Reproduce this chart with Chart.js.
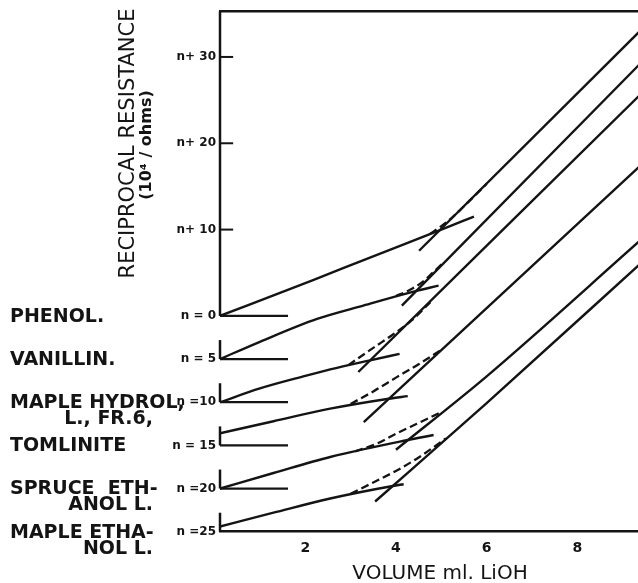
<!DOCTYPE html>
<html>
<head>
<meta charset="utf-8">
<script src="https://cdn.jsdelivr.net/npm/chart.js@4.4.1/dist/chart.umd.min.js"></script>
<style>
  html, body { margin: 0; padding: 0; background: #fff; }
  canvas { display: block; }
</style>
</head>
<body>
<canvas id="c" width="638" height="583"></canvas>
<script>
// Conductometric titration with LiOH; each sample is shifted down by n units.
const volumeTicks = [2, 4, 6, 8];
const levelTicks = [30, 20, 10, 0, -5, -10, -15, -20, -25];
const levelLabels = ['n+ 30', 'n+ 20', 'n+ 10', 'n = 0', 'n = 5', 'n =10', 'n = 15', 'n =20', 'n =25'];
const sampleNames = [
  ['PHENOL.'],
  ['VANILLIN.'],
  ['MAPLE HYDROL,', 'L., FR.6,'],
  ['TOMLINITE'],
  ['SPRUCE  ETH-', 'ANOL L.'],
  ['MAPLE ETHA-', 'NOL L.']
];
const sampleOffsets = [0, -5, -10, -15, -20, -25];

// axis extents (ml LiOH, reciprocal resistance units)
const volumeMin = 0.12, volumeMax = 9.337;
const levelMin = -25, levelMax = 35.3;
const baselineEnd = 1.62;     // short zero lines drawn for each offset sample
const offsetTickHeight = 2.2; // little vertical stub above each offset zero
const levelTickEnd = 0.41;    // inward tick marks on the main axis

// first branch (weak-acid region), extended past the end point
const phenolFirst    = [[0.12, 0], [2.2, 4.2], [3.3, 6.5], [5.0, 10.0], [5.72, 11.5]];
const vanillinFirst  = [[0.12, -5], [1.0, -3.0], [2.26, -0.35], [3.28, 1.2], [4.41, 2.85], [4.94, 3.5]];
const hydrolFirst    = [[0.12, -10], [1.0, -8.4], [2.0, -6.95], [2.55, -6.2], [3.43, -5.15], [4.08, -4.4]];
const tomliniteFirst = [[0.12, -13.6], [1.3, -12.2], [2.55, -10.75], [3.84, -9.6], [4.26, -9.3]];
const spruceFirst    = [[0.12, -20], [1.3, -18.2], [2.55, -16.35], [4.24, -14.4], [4.83, -13.8]];
const ethanolFirst   = [[0.12, -24.4], [1.3, -22.8], [2.55, -21.15], [3.93, -19.7], [4.17, -19.5]];

// second branch (excess LiOH)
const phenolSecond    = [[4.51, 7.55], [9.4, 33.1]];
const vanillinSecond  = [[4.13, 1.2], [9.4, 29.3]];
const hydrolSecond    = [[3.17, -6.5], [9.4, 25.7]];
const tomliniteSecond = [[3.29, -12.3], [9.4, 17.46]];
const spruceSecond    = [[4.0, -15.5], [6.0, -7.0], [9.4, 8.8]];
const ethanolSecond   = [[3.54, -21.5], [6.0, -10.1], [9.4, 6.1]];

// observed transition between the two branches
const phenolBend    = [[4.75, 9.5], [5.0, 10.4], [5.25, 11.45], [5.5, 12.7], [5.75, 14.0], [6.0, 15.3]];
const vanillinBend  = [[4.0, 2.3], [4.3, 3.0], [4.55, 3.8], [4.8, 4.95], [5.05, 6.2]];
const hydrolBend    = [[2.95, -5.7], [3.5, -3.7], [3.95, -2.1], [4.35, -0.5], [4.76, 1.6]];
const tomliniteBend = [[3.0, -10.2], [3.5, -8.75], [4.0, -7.15], [4.5, -5.6], [4.98, -4.0]];
const spruceBend    = [[3.1, -15.7], [3.58, -14.8], [4.02, -13.6], [4.46, -12.5], [4.98, -11.2]];
const ethanolBend   = [[3.0, -20.6], [3.5, -19.3], [4.02, -17.9], [4.5, -16.4], [5.1, -14.2]];

const firstBranches  = [phenolFirst, vanillinFirst, hydrolFirst, tomliniteFirst, spruceFirst, ethanolFirst];
const secondBranches = [phenolSecond, vanillinSecond, hydrolSecond, tomliniteSecond, spruceSecond, ethanolSecond];
const bends          = [phenolBend, vanillinBend, hydrolBend, tomliniteBend, spruceBend, ethanolBend];

const INK = '#141414';
const pts = arr => arr.map(([x, y]) => ({ x, y }));

const datasets = [];
firstBranches.forEach((d, i) => {
  datasets.push({ data: pts(d), borderColor: INK, borderWidth: 2.4, cubicInterpolationMode: 'monotone', pointRadius: 0 });
  datasets.push({ data: pts(secondBranches[i]), borderColor: INK, borderWidth: 2.4, cubicInterpolationMode: 'monotone', pointRadius: 0 });
  datasets.push({ data: pts(bends[i]), borderColor: INK, borderWidth: 2.3, borderDash: [8, 4], cubicInterpolationMode: 'monotone', pointRadius: 0 });
});

// axis pieces: main axis above the phenol zero, zero lines and stubs for the offset samples
const axisStyle = { borderColor: INK, borderWidth: 2.5, pointRadius: 0, clip: false, tension: 0 };
datasets.push({ ...axisStyle, data: pts([[volumeMin, 0], [volumeMin, levelMax]]) });
sampleOffsets.forEach((off, i) => {
  if (i < sampleOffsets.length - 1) {
    datasets.push({ ...axisStyle, borderWidth: 2.2, data: pts([[volumeMin, off], [baselineEnd, off]]) });
  }
  if (i > 0) {
    datasets.push({ ...axisStyle, data: pts([[volumeMin, off], [volumeMin, off + offsetTickHeight]]) });
  }
});
levelTicks.filter(v => v > 0).forEach(v => {
  datasets.push({ ...axisStyle, borderWidth: 2, data: pts([[volumeMin, v], [levelTickEnd, v]]) });
});

const textPlugin = {
  id: 'titrationText',
  afterDraw(chart) {
    const { ctx, scales: { y } } = chart;
    ctx.save();
    ctx.fillStyle = INK;
    ctx.textBaseline = 'middle';
    ctx.font = 'bold 19px "DejaVu Sans"';
    sampleNames.forEach((lines, i) => {
      const py = y.getPixelForValue(sampleOffsets[i]);
      ctx.textAlign = 'left';
      ctx.fillText(lines[0], 10, py + 1);
      if (lines[1]) {
        ctx.textAlign = 'right';
        ctx.fillText(lines[1], 153, py + 17);
      }
    });

    // vertical axis title
    ctx.save();
    ctx.translate(128.5, 143.5);
    ctx.rotate(-Math.PI / 2);
    ctx.textAlign = 'center';
    ctx.font = '21px "DejaVu Sans"';
    ctx.fillText('RECIPROCAL RESISTANCE', 0, 0);
    ctx.font = 'bold 16px "DejaVu Sans"';
    ctx.fillText('(10\u2074 / ohms)', -1.5, 18.5);
    ctx.restore();

    // horizontal axis title
    ctx.textAlign = 'center';
    ctx.font = '20px "DejaVu Sans"';
    ctx.fillText('VOLUME ml. LiOH', 440, 574);
    ctx.restore();
  }
};

new Chart(document.getElementById('c'), {
  type: 'line',
  data: { datasets },
  plugins: [textPlugin],
  options: {
    responsive: false,
    animation: false,
    devicePixelRatio: 1,
    layout: { padding: { top: 11, left: 0, right: 0, bottom: 0 } },
    plugins: { legend: { display: false }, tooltip: { enabled: false } },
    scales: {
      x: {
        type: 'linear',
        min: volumeMin,
        max: volumeMax,
        afterBuildTicks: s => { s.ticks = volumeTicks.map(v => ({ value: v })); },
        afterFit: s => { s.height = 51.3; },
        ticks: {
          autoSkip: false,
          maxRotation: 0,
          padding: 8,
          color: INK,
          font: { family: 'DejaVu Sans', weight: 'bold', size: 14 },
          callback: v => String(v)
        },
        grid: { display: false, drawTicks: false },
        border: { display: true, color: INK, width: 2.5 }
      },
      xTop: {
        type: 'linear',
        position: 'top',
        min: volumeMin,
        max: volumeMax,
        afterFit: s => { s.height = 0; },
        ticks: { display: false },
        grid: { display: false, drawTicks: false },
        border: { display: true, color: INK, width: 2.5 }
      },
      y: {
        type: 'linear',
        min: levelMin,
        max: levelMax,
        afterBuildTicks: s => { s.ticks = levelTicks.map(v => ({ value: v })); },
        afterFit: s => { s.width = 220; },
        ticks: {
          autoSkip: false,
          padding: 4,
          color: INK,
          font: { family: 'DejaVu Sans', weight: 'bold', size: 12 },
          callback: (v, i) => levelLabels[i]
        },
        grid: { display: false, drawTicks: false },
        border: { display: false }
      }
    }
  }
});
</script>
</body>
</html>
